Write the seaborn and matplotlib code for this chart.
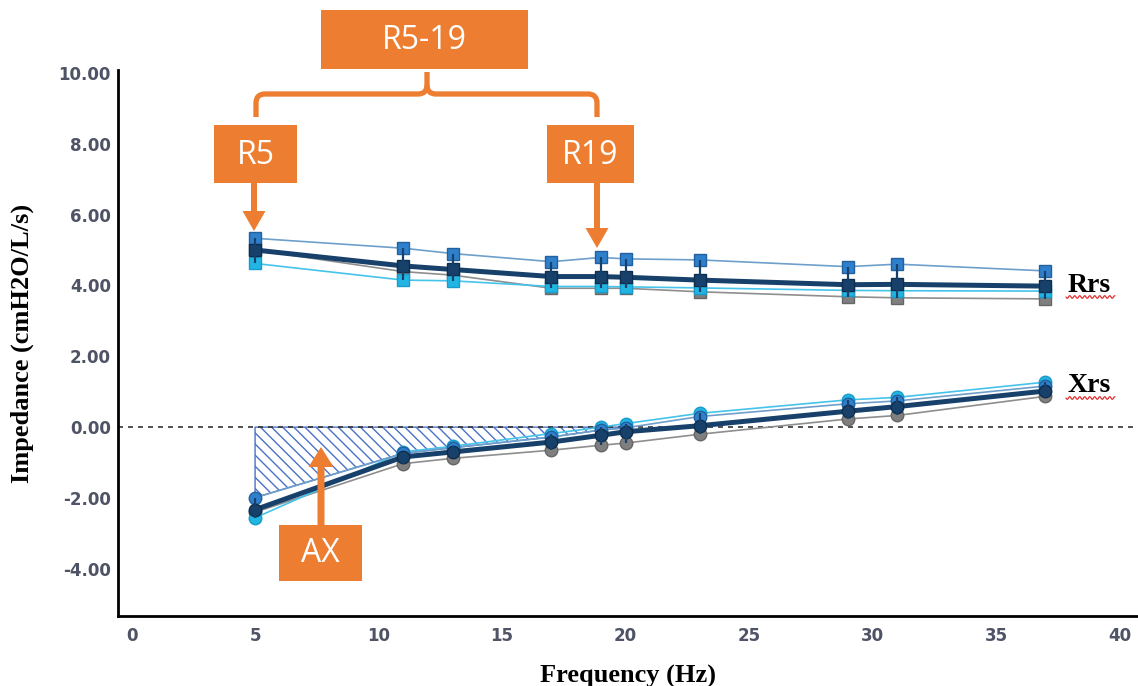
import numpy as np
import pandas as pd
import matplotlib
matplotlib.use("Agg")
import matplotlib.pyplot as plt
from matplotlib.patches import Rectangle, Polygon, PathPatch
from matplotlib.path import Path
import seaborn as sns

# Oscillometry frequencies (Hz)
freq_hz = [5, 11, 13, 17, 19, 20, 23, 29, 31, 37]

# Resistance (Rrs), cmH2O/L/s
rrs_upper = [5.33, 5.05, 4.90, 4.67, 4.79, 4.75, 4.72, 4.53, 4.60, 4.41]
rrs_mean = [5.00, 4.55, 4.45, 4.25, 4.25, 4.23, 4.15, 4.02, 4.03, 3.98]
rrs_cyan = [4.62, 4.15, 4.13, 3.97, 3.97, 3.96, 3.93, 3.86, 3.85, 3.84]
rrs_gray = [5.00, 4.39, 4.29, 3.92, 3.92, 3.92, 3.82, 3.68, 3.65, 3.62]

# Reactance (Xrs), cmH2O/L/s
xrs_upper = [-1.99, -0.74, -0.58, -0.28, -0.08, -0.02, 0.30, 0.66, 0.74, 1.16]
xrs_cyan = [-2.56, -0.70, -0.54, -0.18, 0.00, 0.10, 0.39, 0.77, 0.84, 1.27]
xrs_mean = [-2.33, -0.84, -0.70, -0.42, -0.23, -0.13, 0.04, 0.45, 0.58, 1.02]
xrs_gray = [-2.40, -1.03, -0.88, -0.65, -0.51, -0.45, -0.20, 0.23, 0.33, 0.87]

y_ticks = [-4, -2, 0, 2, 4, 6, 8, 10]
x_ticks = [0, 5, 10, 15, 20, 25, 30, 35, 40]

ORANGE = "#ED7D31"
NAVY = "#17416B"
BLUE = "#2F80CC"
BLUE_LINE = "#6E9FCB"
CYAN = "#22B5E4"
CYAN_LINE = "#45C3EA"
GRAY = "#7F7F7F"
GRAY_LINE = "#8E8E8E"
TICK_TXT = "#4F5366"

sns.set_style("white")
plt.rcParams["hatch.linewidth"] = 1.0

W, H = 1138, 686
fig = plt.figure(figsize=(W / 100, H / 100), dpi=100)
ax = fig.add_axes([118 / W, 1 - 616 / H, (W - 118) / W, (616 - 70) / H])

freq = np.array(freq_hz, dtype=float)


def draw_series(vals, line_color, face, edge, marker, lw, ms, z):
    sns.lineplot(x=freq_hz, y=vals, ax=ax, color=line_color, linewidth=lw,
                 marker=marker, markersize=ms, markerfacecolor=face,
                 markeredgecolor=edge, markeredgewidth=1.0, zorder=z,
                 sort=False, legend=False)


# Shaded area of reactance below zero (AX)
xu = np.array(xrs_upper)
ax.fill_between(freq, xu, 0, where=xu <= 0, interpolate=True,
                facecolor="none", edgecolor="#4A72C8", hatch="\\\\\\",
                linewidth=1.0, zorder=1)

# Zero reference line
ax.axhline(0, color="#333333", lw=1.2, ls=(0, (3, 3)), zorder=2)

for group, marker, ms in (((rrs_gray, rrs_cyan, rrs_upper, rrs_mean), "s", 9),
                          ((xrs_gray, xrs_cyan, xrs_upper, xrs_mean), "o", 9)):
    g, c, u, m = group
    draw_series(g, GRAY_LINE, GRAY, "#666666", marker, 1.2, ms, 3)
    draw_series(c, CYAN_LINE, CYAN, "#1A9CCB", marker, 1.2, ms, 4)
    draw_series(u, BLUE_LINE, BLUE, "#22609E", marker, 1.2, ms, 5)
    draw_series(m, NAVY, NAVY, "#0F2E4E", marker, 3.6, ms, 6)
    stack = np.vstack([g, c, u, m])
    ax.vlines(freq, stack.min(axis=0), stack.max(axis=0), color=NAVY,
              lw=1.6, zorder=7)

ax.set_xlim(-0.55, 40.75)
ax.set_ylim(-5.33, 10.08)
ax.set_xticks(x_ticks)
ax.set_yticks(y_ticks)
ax.set_xticklabels([str(v) for v in x_ticks])
ax.set_yticklabels([f"{v:.2f}" for v in y_ticks])

for s in ("top", "right"):
    ax.spines[s].set_visible(False)
for s in ("left", "bottom"):
    ax.spines[s].set_color("black")
    ax.spines[s].set_linewidth(2.0)

ax.tick_params(axis="y", direction="in", length=8, width=1.5, color="#9A9A9A",
               pad=5, labelsize=12, labelcolor=TICK_TXT)
ax.tick_params(axis="x", direction="in", length=6, width=1.5, color="#9A9A9A",
               pad=8, labelsize=12, labelcolor=TICK_TXT)
for lab in ax.get_xticklabels() + ax.get_yticklabels():
    lab.set_fontweight("bold")
    lab.set_family("DejaVu Sans")

ax.set_xlabel("Frequency (Hz)", family="Liberation Serif", fontweight="bold",
              fontsize=19, color="black", labelpad=14)
ax.set_ylabel("Impedance (cmH2O/L/s)", family="Liberation Serif",
              fontweight="bold", fontsize=19, color="black", labelpad=18)

# Overlay in pixel units for callouts
ov = fig.add_axes([0, 0, 1, 1], zorder=10)
ov.set_xlim(0, W)
ov.set_ylim(H, 0)
ov.axis("off")
ov.patch.set_visible(False)

boxes = [("R5-19", 321, 10, 528, 69), ("R5", 214, 125, 297, 183),
         ("R19", 547, 125, 634, 183), ("AX", 279, 525, 362, 581)]
for txt, x0, y0, x1, y1 in boxes:
    ov.add_patch(Rectangle((x0, y0), x1 - x0, y1 - y0, facecolor=ORANGE,
                           edgecolor="none"))
    ov.text((x0 + x1) / 2, (y0 + y1) / 2 + 1, txt, color="white",
            fontsize=23, family="Open Sans", ha="center", va="center")


def arrow(x, y_tail, y_head_base, y_tip, shaft_w, head_w):
    ov.add_patch(Polygon([(x - shaft_w / 2, y_tail), (x + shaft_w / 2, y_tail),
                          (x + shaft_w / 2, y_head_base), (x + head_w / 2, y_head_base),
                          (x, y_tip), (x - head_w / 2, y_head_base),
                          (x - shaft_w / 2, y_head_base)],
                         closed=True, facecolor=ORANGE, edgecolor="none"))


arrow(254, 183, 211, 231, 6, 23)
arrow(597, 183, 228, 248, 6, 23)
arrow(321, 525, 467, 447, 7, 25)

# Bracket joining R5 and R19 to R5-19
r = 9
verts = [(256, 117), (256, 94 + r), (256, 94), (256 + r, 94),
         (427 - r, 94), (427, 94), (427, 94 - r), (427, 72)]
codes = [Path.MOVETO, Path.LINETO, Path.CURVE3, Path.CURVE3,
         Path.LINETO, Path.CURVE3, Path.CURVE3, Path.LINETO]
ov.add_patch(PathPatch(Path(verts, codes), facecolor="none", edgecolor=ORANGE,
                       lw=3.8, capstyle="butt", joinstyle="round"))
verts_r = [(597, 117), (597, 94 + r), (597, 94), (597 - r, 94),
           (427 + r, 94), (427, 94), (427, 94 - r)]
codes_r = [Path.MOVETO, Path.LINETO, Path.CURVE3, Path.CURVE3,
           Path.LINETO, Path.CURVE3, Path.CURVE3]
ov.add_patch(PathPatch(Path(verts_r, codes_r), facecolor="none",
                       edgecolor=ORANGE, lw=3.8, capstyle="butt",
                       joinstyle="round"))

# Curve labels with spell-check style underline
for txt, cy in (("Rrs", 285), ("Xrs", 386)):
    ov.text(1089, cy, txt, family="Liberation Serif", fontweight="bold",
            fontsize=20, ha="center", va="center", color="black")
    wx = np.linspace(1066, 1115, 120)
    ov.plot(wx, cy + 12 + 1.3 * np.sin((wx - 1066) / 5.0 * 2 * np.pi),
            color="#E03030", lw=0.9)

fig.savefig("out.png", dpi=100)
